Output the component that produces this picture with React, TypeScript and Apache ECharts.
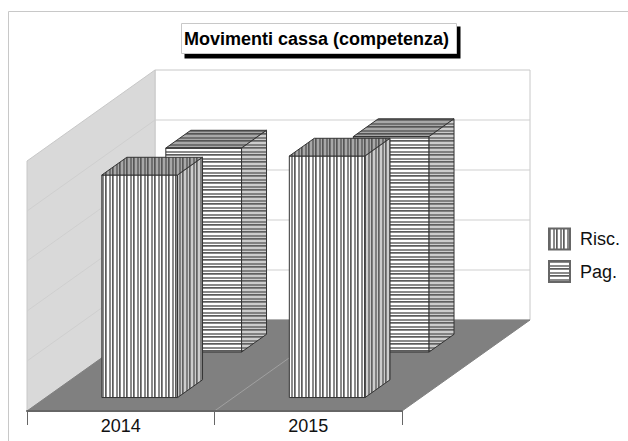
import React, { useEffect, useRef } from "react";
import * as echarts from "echarts";

const categories = ["2014", "2015"];
const riscValues = [4.45, 4.83];
const pagValues = [4.08, 4.31];
const gridValues = [1, 2, 3, 4];
const titleText = "Movimenti cassa (competenza)";

const DX = 128;
const DY = 91;
const BAR_WIDTH_RATIO = 0.404;
const BAR_THICKNESS = 0.195;

function stripes(vertical: boolean, light: string, mid: string, dark: string) {
  const bands = [dark, mid, light, light, mid, mid, light];
  const c = document.createElement("canvas");
  c.width = vertical ? bands.length : 2;
  c.height = vertical ? 2 : bands.length;
  const g = c.getContext("2d")!;
  bands.forEach((col, i) => {
    g.fillStyle = col;
    if (vertical) g.fillRect(i, 0, 1, 2);
    else g.fillRect(0, i, 2, 1);
  });
  return { image: c, repeat: "repeat" };
}

function barRenderer(depth: number, vertical: boolean) {
  const front = stripes(vertical, "#ffffff", "#8a8a8a", "#5c5c5c");
  const top = stripes(vertical, "#a8a8a8", "#707070", "#555555");
  const side = stripes(vertical, "#cccccc", "#808080", "#606060");
  return (_p: any, api: any) => {
    const cat = api.value(0);
    const base = api.coord([cat, 0]);
    const head = api.coord([cat, api.value(1)]);
    const w = api.size([1, 0])[0] * BAR_WIDTH_RATIO;
    const ox = DX * depth;
    const oy = DY * depth;
    const tx = DX * BAR_THICKNESS;
    const ty = DY * BAR_THICKNESS;
    const l = base[0] - w / 2 + ox;
    const r = l + w;
    const b = base[1] - oy;
    const t = head[1] - oy;
    const stroke = { stroke: "#333333", lineWidth: 1 };
    return {
      type: "group",
      children: [
        {
          type: "polygon",
          shape: { points: [[l, t], [r, t], [r, b], [l, b]] },
          style: { fill: front, ...stroke },
        },
        {
          type: "polygon",
          shape: { points: [[l, t], [l + tx, t - ty], [r + tx, t - ty], [r, t]] },
          style: { fill: top, ...stroke },
        },
        {
          type: "polygon",
          shape: { points: [[r, t], [r + tx, t - ty], [r + tx, b - ty], [r, b]] },
          style: { fill: side, ...stroke },
        },
      ],
    };
  };
}

function frameRenderer(_p: any, api: any) {
  const v0 = api.coord([0, 0]);
  const v5 = api.coord([0, 5]);
  const w = api.size([1, 0])[0];
  const x0 = v0[0] - w / 2;
  const x1 = x0 + w;
  const x2 = x0 + 2 * w;
  const y0 = v0[1];
  const yTop = v5[1];
  const gridStroke = { stroke: "#cfcfcf", lineWidth: 1 };
  const wallStroke = { stroke: "#c8c8c8", lineWidth: 1 };
  const children: any[] = [
    {
      type: "polygon",
      shape: { points: [[x0 + DX, yTop - DY], [x2 + DX, yTop - DY], [x2 + DX, y0 - DY], [x0 + DX, y0 - DY]] },
      style: { fill: "#ffffff", ...wallStroke },
    },
    {
      type: "polygon",
      shape: { points: [[x0, yTop], [x0 + DX, yTop - DY], [x0 + DX, y0 - DY], [x0, y0]] },
      style: { fill: "#d9d9d9", ...wallStroke },
    },
  ];
  gridValues.forEach((g) => {
    const y = api.coord([0, g])[1];
    children.push({
      type: "polyline",
      shape: { points: [[x0, y], [x0 + DX, y - DY], [x2 + DX, y - DY]] },
      style: { fill: "none", ...gridStroke },
    });
  });
  children.push({
    type: "polygon",
    shape: { points: [[x0, y0], [x0 + DX, y0 - DY], [x2 + DX, y0 - DY], [x2, y0]] },
    style: { fill: "#808080", stroke: "#808080", lineWidth: 1 },
  });
  children.push({
    type: "line",
    shape: { x1, y1: y0, x2: x1 + DX, y2: y0 - DY },
    style: { stroke: "#a0a0a0", lineWidth: 1 },
  });
  return { type: "group", children };
}

export default function App() {
  const ref = useRef<HTMLDivElement>(null);
  useEffect(() => {
    document.body.style.margin = "0";
    const chart = echarts.init(ref.current!, undefined, { renderer: "svg" });
    const font = "'Liberation Sans', Arial, sans-serif";
    chart.setOption({
      animation: false,
      backgroundColor: "#ffffff",
      textStyle: { fontFamily: font },
      title: {
        text: titleText,
        left: 181,
        top: 23,
        padding: [7, 8, 6, 3],
        backgroundColor: "#ffffff",
        borderColor: "#c8c8c8",
        borderWidth: 1,
        textStyle: { fontFamily: font, fontSize: 18, fontWeight: "bold", color: "#000000" },
      },
      graphic: [
        { type: "polyline", z: 1, silent: true, shape: { points: [[8.5, 441], [8.5, 11.5], [628, 11.5]] }, style: { fill: "none", stroke: "#c8c8c8", lineWidth: 1 } },
        { type: "rect", z: 5, silent: true, shape: { x: 184.5, y: 26.5, width: 276, height: 32 }, style: { fill: "#000000" } },
      ],
      legend: {
        show: true,
        left: 548,
        top: 227.5,
        padding: 0,
        orient: "vertical",
        itemWidth: 21,
        itemHeight: 21,
        itemGap: 9.5,
        icon: "rect",
        data: ["Risc.", "Pag."],
        selectedMode: false,
        textStyle: { fontFamily: font, fontSize: 18, color: "#111111", padding: [0, 0, 0, 5] },
      },
      grid: { left: 27, width: 375, top: 161, height: 250 },
      xAxis: {
        type: "category",
        data: categories,
        z: 3,
        boundaryGap: true,
        axisLine: { show: true, lineStyle: { color: "#666666", width: 2 } },
        axisTick: { show: true, alignWithLabel: false, interval: 0, length: 14, lineStyle: { color: "#666666", width: 1 } },
        axisLabel: { fontFamily: font, fontSize: 18, color: "#111111", margin: 6 },
      },
      yAxis: { type: "value", min: 0, max: 5, interval: 1, show: false },
      series: [
        { type: "custom", name: "frame", z: 1, silent: true, renderItem: frameRenderer, data: [[0, 0]], encode: { x: 0, y: 1 } },
        {
          type: "custom",
          name: "Pag.",
          z: 4,
          silent: true,
          renderItem: barRenderer(0.648, false),
          itemStyle: { color: stripes(false, "#ffffff", "#8a8a8a", "#5c5c5c"), borderColor: "#666666", borderWidth: 1 },
          data: pagValues.map((v, i) => [i, v]),
          encode: { x: 0, y: 1 },
        },
        {
          type: "custom",
          name: "Risc.",
          z: 5,
          silent: true,
          renderItem: barRenderer(0.148, true),
          itemStyle: { color: stripes(true, "#ffffff", "#8a8a8a", "#5c5c5c"), borderColor: "#666666", borderWidth: 1 },
          data: riscValues.map((v, i) => [i, v]),
          encode: { x: 0, y: 1 },
        },
      ],
    });
    return () => chart.dispose();
  }, []);
  return <div ref={ref} style={{ width: 628, height: 441 }} />;
}
